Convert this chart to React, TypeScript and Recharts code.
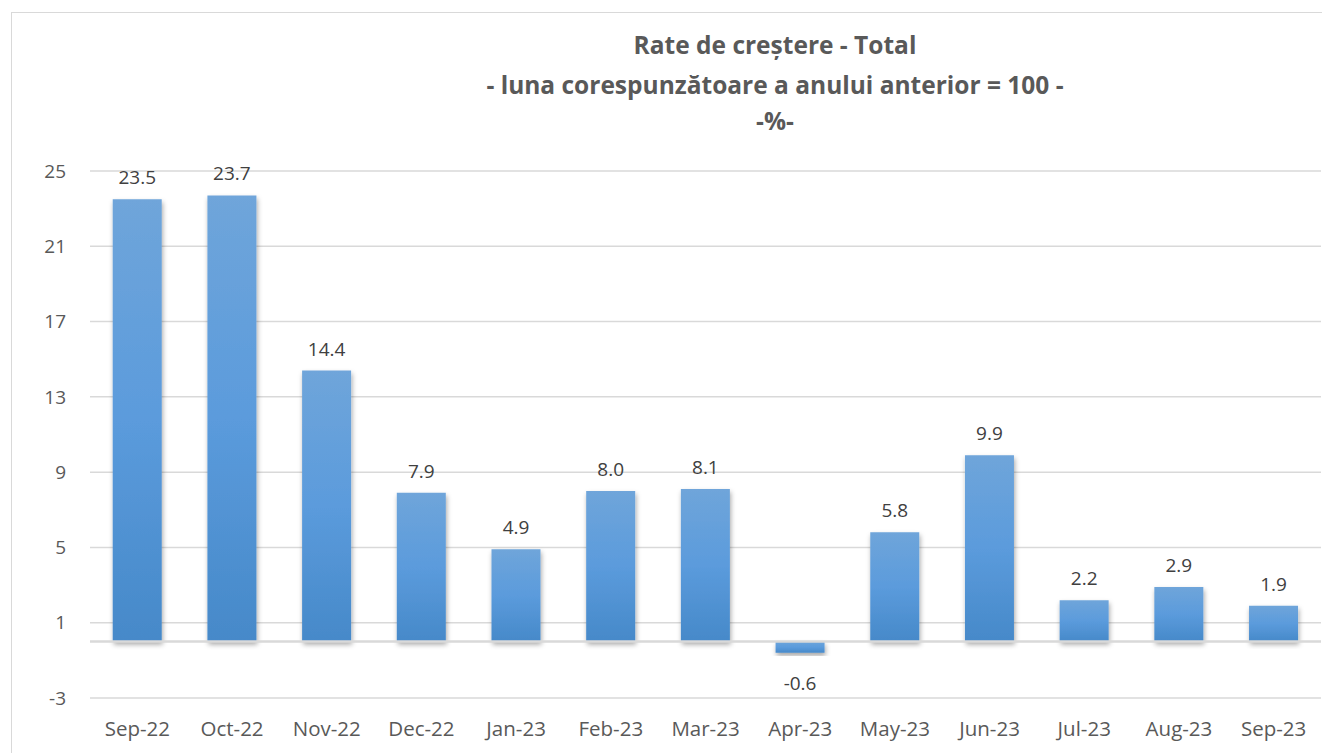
import React from "react";
import { BarChart, Bar, XAxis, YAxis, CartesianGrid, ReferenceLine, LabelList } from "recharts";

const months = ["Sep-22", "Oct-22", "Nov-22", "Dec-22", "Jan-23", "Feb-23", "Mar-23", "Apr-23", "May-23", "Jun-23", "Jul-23", "Aug-23", "Sep-23"];
const rates = [23.5, 23.7, 14.4, 7.9, 4.9, 8.0, 8.1, -0.6, 5.8, 9.9, 2.2, 2.9, 1.9];
const yTicks = [-3, 1, 5, 9, 13, 17, 21, 25];
const titleLines = ["Rate de creștere - Total", "- luna corespunzătoare a anului anterior = 100 -", "-%-"];

const data = months.map((m, i) => ({ month: m, value: rates[i] }));

const FONT = "'Open Sans', 'DejaVu Sans', sans-serif";

const ValueLabel = (props: any) => {
  const { x, y, width, height, value } = props;
  const v = Number(value);
  const top = Math.min(y, y + height);
  const bottom = Math.max(y, y + height);
  const ty = v >= 0 ? top - 15 : bottom + 37;
  return (
    <text x={x + width / 2} y={ty} textAnchor="middle" fill="#404040" fontSize={19} fontFamily={FONT}>
      {v.toFixed(1)}
    </text>
  );
};

export default function App() {
  return (
    <div style={{ position: "relative", width: 1322, height: 745, fontFamily: FONT }}>
      <div
        style={{
          position: "absolute",
          left: 3,
          top: 4,
          width: 1330,
          height: 760,
          border: "1.5px solid #d9d9d9",
          boxSizing: "border-box",
        }}
      />
      <div style={{ position: "absolute", left: 0, top: 0 }}>
        <BarChart
          width={1322}
          height={745}
          data={data}
          margin={{ top: 163, right: 9, bottom: 15, left: 0 }}
          barCategoryGap="24%"
        >
          <defs>
            <linearGradient id="barGrad" x1="0" y1="0" x2="0" y2="1">
              <stop offset="0%" stopColor="#6fa5da" />
              <stop offset="50%" stopColor="#5b9bdc" />
              <stop offset="100%" stopColor="#4689c9" />
            </linearGradient>
            <filter id="barShadow" x="-20%" y="-20%" width="140%" height="140%">
              <feDropShadow dx="1" dy="3" stdDeviation="2.5" floodColor="#000" floodOpacity="0.35" />
            </filter>
          </defs>
          <CartesianGrid vertical={false} stroke="#d9d9d9" strokeWidth={1.5} />
          <XAxis
            dataKey="month"
            axisLine={false}
            tickLine={false}
            tickSize={0}
            tickMargin={23}
            height={40}
            interval={0}
            tick={{ fill: "#595959", fontSize: 20.5, fontFamily: FONT }}
          />
          <YAxis
            domain={[-3, 25]}
            ticks={yTicks}
            axisLine={false}
            tickLine={false}
            tickSize={0}
            tickMargin={24}
            width={82}
            allowDataOverflow
            tick={{ fill: "#595959", fontSize: 19, fontFamily: FONT }}
          />
          <ReferenceLine y={0} stroke="#d9d9d9" strokeWidth={2.5} />
          <Bar dataKey="value" fill="url(#barGrad)" filter="url(#barShadow)" isAnimationActive={false}>
            <LabelList dataKey="value" content={ValueLabel} />
          </Bar>
          {titleLines.map((t, i) => (
            <text
              key={i}
              x={767}
              y={[45.5, 85.5, 121.5][i]}
              textAnchor="middle"
              fill="#595959"
              fontWeight="bold"
              fontSize={24.5}
              fontFamily={FONT}
            >
              {t}
            </text>
          ))}
        </BarChart>
      </div>
    </div>
  );
}
